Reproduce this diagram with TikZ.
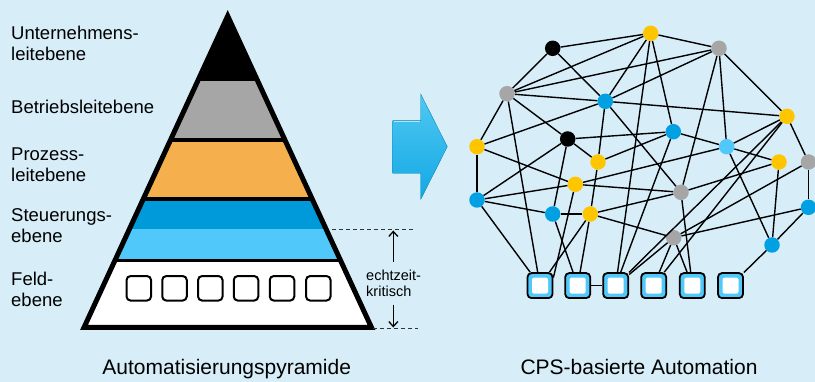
\documentclass[tikz,border=0pt]{standalone}
\usepackage{fontspec}
\setmainfont{Liberation Sans}
\usetikzlibrary{calc,arrows.meta}
\definecolor{bgc}{RGB}{215,238,249}
\definecolor{cGray}{RGB}{166,166,166}
\definecolor{cOr}{RGB}{245,176,77}
\definecolor{cDB}{RGB}{0,154,218}
\definecolor{cLB}{RGB}{80,200,250}
\definecolor{cY}{RGB}{255,198,0}
\definecolor{cB}{RGB}{0,160,226}
\definecolor{arrL}{RGB}{80,200,242}
\definecolor{arrD}{RGB}{18,168,228}
\begin{document}
\begin{tikzpicture}[x=1pt,y=-1pt,
  lbl/.style={anchor=base west, inner sep=0pt, align=left, font=\fontsize{18.5}{21}\selectfont},
  captxt/.style={anchor=base, inner sep=0pt, font=\fontsize{21}{24}\selectfont},
  fbox/.style={draw=black, line width=2pt, fill=white, rounded corners=4pt, minimum size=24.5pt, inner sep=0pt},
  nd/.style={circle, minimum size=15.5pt, inner sep=0pt},
  ny/.style={nd, fill=cY}, nk/.style={nd, fill=black}, ng/.style={nd, fill=cGray},
  nb/.style={nd, fill=cB}, nl/.style={nd, fill=cLB},
  dev/.style={draw=black, line width=1.8pt, fill=cLB, rounded corners=4pt, minimum size=25pt, inner sep=0pt,
    path picture={\fill[white, rounded corners=2pt] ([shift={(-8pt,-8pt)}]path picture bounding box.center) rectangle ([shift={(8pt,8pt)}]path picture bounding box.center);}},
  lnk/.style={draw=black, line width=1.4pt},
  rt/.style={line width=1.3pt, -{Straight Barb[length=5pt,width=9pt]}},
  dsh/.style={draw=black!80, line width=0.8pt, dash pattern=on 4pt off 3pt}
]
\useasboundingbox (0,0) rectangle (815,382);
\fill[bgc] (0,0) rectangle (815,382);

% ---------- Pyramid ----------
\coordinate (apex) at (227.7,16);
\coordinate (bl) at (84,327.5);
\coordinate (br) at (371.5,327.5);
\begin{scope}
  \clip (apex) -- (bl) -- (br) -- cycle;
  \fill[black] (0,0) rectangle (815,81);
  \fill[cGray] (0,81) rectangle (815,140);
  \fill[cOr] (0,140) rectangle (815,199);
  \fill[cDB] (0,199) rectangle (815,229.3);
  \fill[cLB] (0,229.3) rectangle (815,260.5);
  \fill[white] (0,260.5) rectangle (815,330);
  \draw[line width=3.5pt] (0,140) -- (815,140);
  \draw[line width=3.5pt] (0,199) -- (815,199);
  \draw[line width=3.5pt] (0,260.5) -- (815,260.5);
\end{scope}
\draw[line width=5pt, line join=miter] (apex) -- (bl) -- (br) -- cycle;

\foreach \i/\x in {1/138.8,2/174.5,3/210.3,4/246,5/282,6/318.3}
  \node[fbox] (f\i) at (\x,288.3) {};

% level labels (anchor = baseline of last line)
\node[lbl] (l1) at (11,61) {Unternehmens-\\leitebene};
\node[lbl] (l2) at (11,113.3) {Betriebsleitebene};
\node[lbl] (l3) at (11,181.7) {Prozess-\\leitebene};
\node[lbl] (l4) at (11,242.7) {Steuerungs-\\ebene};
\node[lbl] (l5) at (11,306.5) {Feld-\\ebene};

% real-time marker
\coordinate (d1a) at (332,229.3); \coordinate (d1b) at (415,229.3);
\coordinate (d2a) at (373,328);   \coordinate (d2b) at (418,328);
\draw[dsh] (d1a) -- (d1b);
\draw[dsh] (d2a) -- (d2b);
\node[anchor=base west, inner sep=0pt, align=left, font=\fontsize{14.5}{15.5}\selectfont] (ek) at (366,296.5) {echtzeit-\\kritisch};
\coordinate (u0) at (393.3,262); \coordinate (u1) at (393.3,230.5);
\coordinate (v0) at (393.3,305); \coordinate (v1) at (393.3,327.5);
\draw[rt] (u0) -- (u1);
\draw[rt] (v0) -- (v1);

\node[captxt] (c1) at (226.7,375) {Automatisierungspyramide};

% ---------- big arrow ----------
\path[top color=arrL, bottom color=arrD, draw=arrD!80!black, line width=0.4pt]
  (392.7,120.7) -- (420.7,120.7) -- (420.7,94) -- (447.3,146.7) -- (420.7,199.4) -- (420.7,173.3) -- (392.7,173.3) -- cycle;
\draw[white!55!arrL, line width=1.2pt] (393.5,121.8) -- (419.8,121.8);

% ---------- network ----------
\node[nk] (K1) at (552.7,48.3) {};
\node[ny] (Y1) at (650.7,33.3) {};
\node[ng] (G1) at (719,48.3) {};
\node[ng] (G2) at (507,93.7) {};
\node[nb] (B1) at (605.3,101.3) {};
\node[ny] (Y2) at (787,116.3) {};
\node[nb] (B2) at (673.3,131.7) {};
\node[nk] (K2) at (567.7,139) {};
\node[ny] (Y3) at (477,146.7) {};
\node[nl] (L1) at (726.7,146.7) {};
\node[ny] (Y4) at (598,162) {};
\node[ny] (Y5) at (779,162) {};
\node[ng] (G3) at (808.5,162) {};
\node[ny] (Y6) at (575.3,184.3) {};
\node[ng] (G4) at (681,192.3) {};
\node[nb] (B3) at (477,200) {};
\node[nb] (B4) at (808.5,207.3) {};
\node[nb] (B5) at (552.7,214) {};
\node[ny] (Y7) at (590.3,214) {};
\node[ng] (G5) at (673.7,237.7) {};
\node[nb] (B6) at (772,245) {};

\foreach \i/\x in {1/540,2/577.7,3/615.7,4/653.7,5/692.3,6/730.5}
  \node[dev] (S\i) at (\x,285.6) {};

\foreach \a/\b in {K1/Y1,K1/G2,K1/B1,
  Y1/G2,Y1/G1,Y1/B1,Y1/B2,Y1/S3,
  G1/G2,G1/B1,G1/Y2,G1/L1,G1/G4,
  G2/B1,B1/Y2,G2/Y3,G2/K2,G2/S1,
  B1/Y3,B1/Y4,B1/G4,
  Y2/L1,Y2/G3,Y2/S3,Y2/S4,
  B2/K2,B2/Y4,B2/L1,B2/S3,
  L1/Y6,L1/Y5,L1/B6,
  K2/Y4,K2/B3,K2/B5,
  Y3/Y6,Y3/B3,Y4/Y7,
  Y5/B6,Y5/G4,G3/B4,G3/G5,
  Y6/B3,Y6/G4,G4/Y7,G4/S5,
  B3/B5,B3/S1,B5/Y7,B5/S2,
  Y7/S1,Y7/S2,Y7/G5,
  G5/B4,G5/S3,G5/S4,G5/S5,B4/B6,B6/S6,S2/S3}
  \draw[lnk] (\a) -- (\b);
\draw[lnk] (Y6) -- ($(S1.east)+(0,-8)$);

\node[captxt] (c2) at (639,375) {CPS-basierte Automation};
\end{tikzpicture}
\end{document}
